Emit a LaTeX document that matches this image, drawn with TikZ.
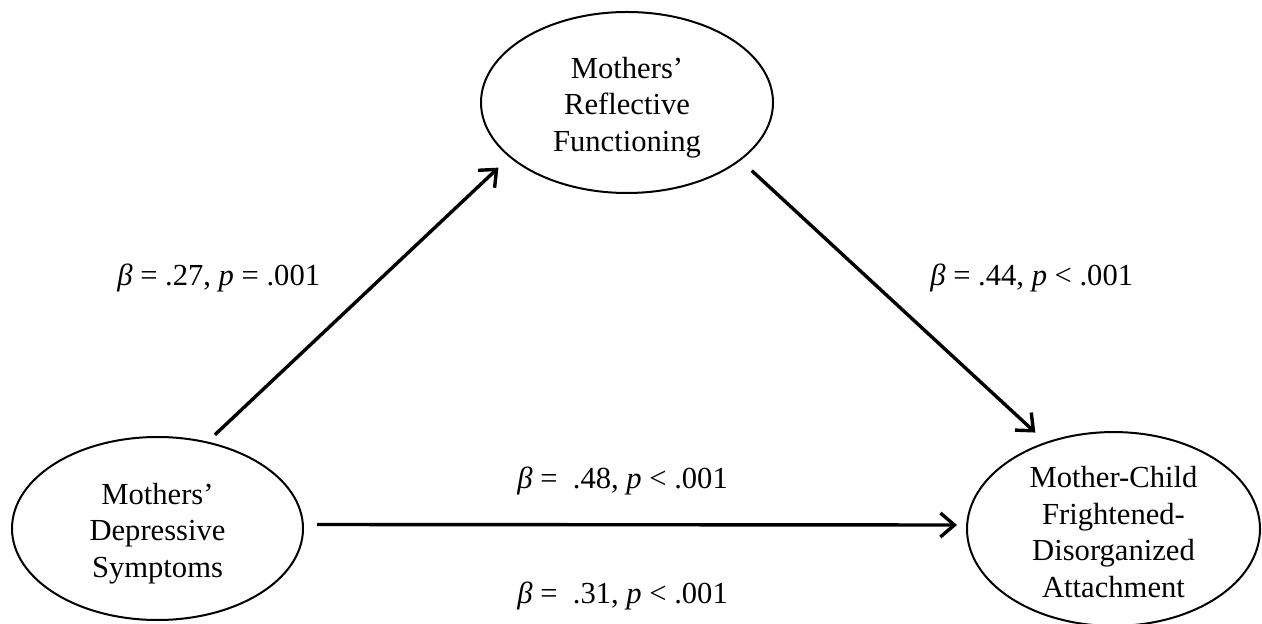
\documentclass[tikz,border=0pt]{standalone}
\usepackage{fontspec}
\setmainfont{Liberation Serif}
\usetikzlibrary{shapes.geometric,arrows.meta}
\tikzset{
  var/.style={draw, ellipse, line width=1pt, inner sep=0pt, align=center,
    font=\fontsize{15.3}{18.3}\selectfont},
  arr/.style={line width=1.7pt, -{Straight Barb[length=7pt,width=12pt,line width=1.7pt]}},
  lab/.style={anchor=base west, inner sep=0pt, font=\fontsize{15.3}{18.3}\selectfont}
}
\begin{document}
\begin{tikzpicture}[x=0.5pt,y=-0.5pt]
\useasboundingbox (0,0) rectangle (1262,624);
\node[var, minimum width=146pt, minimum height=90.5pt] (rf) at (627,102.5) {\rule{0pt}{15.5pt}Mothers’\\Reflective\\Functioning};
\node[var, minimum width=145.5pt, minimum height=91.5pt] (ds) at (157.5,528.5) {\rule{0pt}{15.5pt}Mothers’\\Depressive\\Symptoms};
\node[var, minimum width=146.5pt, minimum height=91pt] (mcf) at (1113.5,529) {\rule{0pt}{13.5pt}Mother-Child\\Frightened-\\Disorganized\\Attachment};
\draw[arr, shorten <=5pt, shorten >=7.5pt] (ds.60.9) -- (rf.205.4);
\draw[arr, shorten <=7.5pt, shorten >=7pt] (rf.333.4) -- (mcf.128.6);
\draw[arr, shorten <=6.5pt, shorten >=4.5pt] ([yshift=2pt]ds.east) -- ([yshift=2pt]mcf.west);
\node[lab] (l1) at (117,286) {\textit{β} = .27, \textit{p} = .001};
\node[lab] (l2) at (930,286) {\textit{β} = .44, \textit{p} < .001};
\node[lab] (l3) at (517,488) {\textit{β} =\ \ .48, \textit{p} < .001};
\node[lab] (l4) at (517,603) {\textit{β} =\ \ .31, \textit{p} < .001};
\end{tikzpicture}
\end{document}
